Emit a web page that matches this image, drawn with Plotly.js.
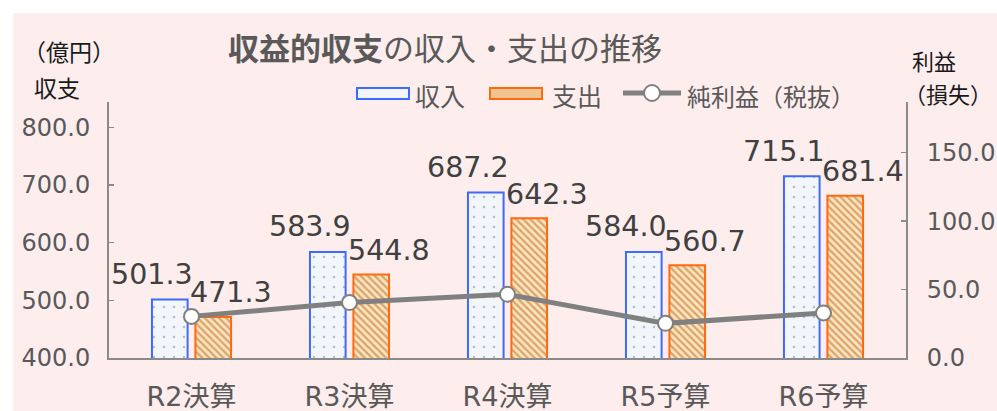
<!DOCTYPE html>
<html>
<head>
<meta charset="utf-8">
<script src="https://cdn.plot.ly/plotly-3.0.1.min.js"></script>
<style>
  html, body { margin: 0; padding: 0; background: #ffffff; width: 997px; height: 411px; overflow: hidden; }
  #chart { position: absolute; left: 13px; top: 13px; width: 984px; height: 398px; }
</style>
</head>
<body>
<div id="chart"></div>
<script>
// ---- data ----
const categories = ['R2決算', 'R3決算', 'R4決算', 'R5予算', 'R6予算'];
const income = [501.3, 583.9, 687.2, 584.0, 715.1];
const expense = [471.3, 544.8, 642.3, 560.7, 681.4];
const netProfit = [30.4, 40.5, 46.5, 25.3, 32.9];
const leftTicks = [400, 500, 600, 700, 800];
const rightTicks = [0, 50, 100, 150];
const seriesNames = ['収入', '支出', '純利益（税抜）'];
const titleText = '<b>収益的収支</b>の収入・支出の推移';
const leftUnit = ['（億円）', '収支'];
const rightUnit = ['利益', '（損失）'];

// ---- layout helpers ----
const W = 984, H = 398, OX = 13, OY = 13;
const M = { l: 96, r: 91, t: 89, b: 53 };
const PW = W - M.l - M.r, PH = H - M.t - M.b;
const px = X => (X - OX - M.l) / PW;          // page x -> paper x
const py = Y => (H - M.b - (Y - OY)) / PH;    // page y -> paper y

const NUM_FONT = 'DejaVu Sans, Noto Sans CJK JP, sans-serif';
const CJK_FONT = 'Noto Sans CJK JP, DejaVu Sans, sans-serif';
const GREY = '#595959';
const AXIS = '#8a8a8a';

const incomePattern = { shape: '.', bgcolor: '#F2F6FA', fgcolor: '#B4BEC9', size: 10, solidity: 0.05 };
const expensePattern = { shape: '\\', bgcolor: '#FBE4C4', fgcolor: '#DCA464', size: 5, solidity: 0.45 };

const traces = [
  {
    type: 'bar', name: seriesNames[0], x: categories, y: income,
    marker: { color: '#F2F6FA', pattern: incomePattern, line: { color: '#3D6BFF', width: 2 } },
    showlegend: false, hoverinfo: 'x+y'
  },
  {
    type: 'bar', name: seriesNames[1], x: categories, y: expense,
    marker: { color: '#FBE4C4', pattern: expensePattern, line: { color: '#FF6A10', width: 2 } },
    showlegend: false, hoverinfo: 'x+y'
  },
  {
    type: 'scatter', mode: 'lines+markers', name: seriesNames[2], x: categories, y: netProfit,
    yaxis: 'y2',
    line: { color: '#808080', width: 5 },
    marker: { size: 15, color: '#ffffff', line: { color: '#808080', width: 2 } },
    showlegend: false, hoverinfo: 'x+y'
  }
];

const annotations = [];
// data labels
income.forEach((v, i) => annotations.push({
  x: i - 0.25, y: v, xref: 'x', yref: 'y', text: v.toFixed(1), showarrow: false,
  xanchor: 'center', yanchor: 'middle', yshift: 25,
  font: { family: NUM_FONT, size: 28.5, color: '#404040' }
}));
expense.forEach((v, i) => annotations.push({
  x: i + 0.25, y: v, xref: 'x', yref: 'y', text: v.toFixed(1), showarrow: false,
  xanchor: 'center', yanchor: 'middle', yshift: 24,
  font: { family: NUM_FONT, size: 28.5, color: '#404040' }
}));
// unit labels
const unitFont = { family: CJK_FONT, size: 23, color: '#1a1a1a' };
const rightFont = { family: CJK_FONT, size: 22, color: '#1a1a1a' };
annotations.push({ xref: 'paper', yref: 'paper', x: px(22), y: py(51), text: leftUnit[0], showarrow: false, xanchor: 'left', yanchor: 'middle', font: unitFont, borderpad: 0 });
annotations.push({ xref: 'paper', yref: 'paper', x: px(33), y: py(87), text: leftUnit[1], showarrow: false, xanchor: 'left', yanchor: 'middle', font: unitFont, borderpad: 0 });
annotations.push({ xref: 'paper', yref: 'paper', x: px(911), y: py(60), text: rightUnit[0], showarrow: false, xanchor: 'left', yanchor: 'middle', font: rightFont, borderpad: 0 });
annotations.push({ xref: 'paper', yref: 'paper', x: px(903), y: py(93), text: rightUnit[1], showarrow: false, xanchor: 'left', yanchor: 'middle', font: rightFont, borderpad: 0 });
// legend texts
const legFont = { family: CJK_FONT, size: 25, color: GREY };
annotations.push({ xref: 'paper', yref: 'paper', x: px(413), y: py(95), text: seriesNames[0], showarrow: false, xanchor: 'left', yanchor: 'middle', font: legFont });
annotations.push({ xref: 'paper', yref: 'paper', x: px(550), y: py(95), text: seriesNames[1], showarrow: false, xanchor: 'left', yanchor: 'middle', font: legFont });
annotations.push({ xref: 'paper', yref: 'paper', x: px(685), y: py(95), text: seriesNames[2], showarrow: false, xanchor: 'left', yanchor: 'middle', font: { family: CJK_FONT, size: 24, color: GREY } });

const shapes = [
  { type: 'rect', xref: 'paper', yref: 'paper', x0: px(357), x1: px(409), y0: py(99), y1: py(88),
    fillcolor: '#F2F6FA', line: { color: '#3D6BFF', width: 2 } },
  { type: 'rect', xref: 'paper', yref: 'paper', x0: px(490), x1: px(542), y0: py(99), y1: py(88),
    fillcolor: '#EFC48E', line: { color: '#FF6A10', width: 2 } },
  { type: 'line', xref: 'paper', yref: 'paper', x0: px(623), x1: px(681), y0: py(93), y1: py(93),
    line: { color: '#808080', width: 5 } },
  { type: 'circle', xref: 'paper', yref: 'paper', x0: px(644), x1: px(660), y0: py(101), y1: py(85),
    fillcolor: '#ffffff', line: { color: '#808080', width: 2 } }
];

const layout = {
  width: W, height: H,
  margin: M,
  paper_bgcolor: '#FDEDED',
  plot_bgcolor: '#FDEDED',
  showlegend: false,
  barmode: 'group',
  bargap: 0.45,
  bargroupgap: 0.18,
  title: {
    text: titleText, xref: 'container', yref: 'container',
    x: (445 - OX) / W, y: 1 - (49 - OY) / H, xanchor: 'center', yanchor: 'middle',
    font: { family: CJK_FONT, size: 31, color: GREY }
  },
  xaxis: {
    type: 'category', showgrid: false, zeroline: false,
    showline: true, linecolor: AXIS, linewidth: 2, ticks: '',
    tickfont: { family: NUM_FONT, size: 27, color: GREY },
    ticklabelstandoff: 14
  },
  yaxis: {
    range: [400, 844], tickvals: leftTicks, tickformat: '.1f',
    showgrid: false, zeroline: false, showline: true, linecolor: AXIS, linewidth: 2,
    ticks: 'inside', ticklen: 5, tickcolor: AXIS, tickwidth: 1.5,
    tickfont: { family: NUM_FONT, size: 24, color: GREY },
    ticklabelstandoff: 12
  },
  yaxis2: {
    overlaying: 'y', side: 'right',
    range: [0, 187], tickvals: rightTicks, tickformat: '.1f',
    showgrid: false, zeroline: false, showline: true, linecolor: AXIS, linewidth: 2,
    ticks: 'inside', ticklen: 5, tickcolor: AXIS, tickwidth: 1.5,
    tickfont: { family: NUM_FONT, size: 24, color: GREY },
    ticklabelstandoff: 14
  },
  annotations: annotations,
  shapes: shapes
};

Plotly.newPlot('chart', traces, layout, { displayModeBar: false, staticPlot: true });
</script>
</body>
</html>
